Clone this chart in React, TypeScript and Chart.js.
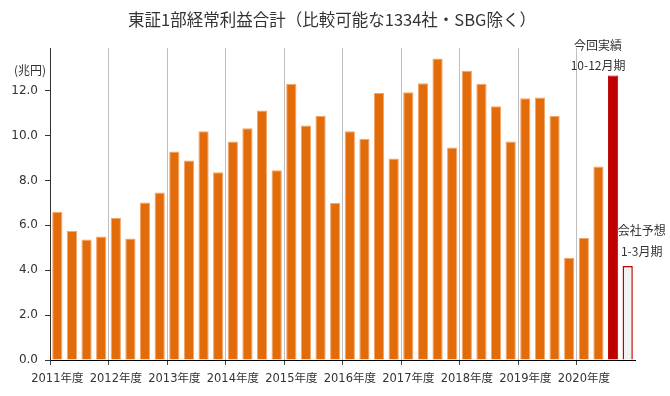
import React, { useEffect, useRef } from 'react';
import { Chart, registerables } from 'chart.js';

Chart.register(...registerables);

const chartTitle = '東証1部経常利益合計（比較可能な1334社・SBG除く）';
const unitLabel = '(兆円)';
const fiscalYears = ['2011年度', '2012年度', '2013年度', '2014年度', '2015年度', '2016年度', '2017年度', '2018年度', '2019年度', '2020年度'];
const quarters = ['4-6月期', '7-9月期', '10-12月期', '1-3月期'];
// quarterly ordinary profit (trillion yen)
const profits = [
  6.6, 5.75, 5.37, 5.5,
  6.33, 5.41, 7.02, 7.46,
  9.29, 8.89, 10.19, 8.37,
  9.74, 10.32, 11.12, 8.45,
  12.31, 10.45, 10.87, 7.0,
  10.19, 9.86, 11.9, 8.98,
  11.93, 12.33, 13.43, 9.47,
  12.89, 12.31, 11.3, 9.74,
  11.66, 11.69, 10.87, 4.55,
  5.44, 8.62, 12.68, 4.19,
];
const latestIndex = 38;
const forecastIndex = 39;
const latestNote = ['今回実績', '10-12月期'];
const forecastNote = ['会社予想', '1-3月期'];

const ORANGE = '#E36C0A';
const RED = '#C00000';
const FONT = "'DejaVu Sans', 'Noto Sans CJK JP', sans-serif";
const CJK = "'Noto Sans CJK JP', 'DejaVu Sans', sans-serif";

const labels: string[] = [];
fiscalYears.forEach((y) => quarters.forEach((q) => labels.push(y + ' ' + q)));

const overlayPlugin = {
  id: 'overlay',
  afterDraw(chart: any) {
    const ctx = chart.ctx;
    const x = chart.scales.x;
    const y = chart.scales.y;
    ctx.save();
    ctx.fillStyle = '#333333';
    ctx.textAlign = 'center';
    ctx.textBaseline = 'middle';
    ctx.font = `16.5px ${CJK}`;
    ctx.fillText(chartTitle, 332, 20);
    ctx.font = `12px ${CJK}`;
    ctx.fillText(unitLabel, 30, 70);

    ctx.font = `12px ${CJK}`;
    const lx = x.getPixelForValue(latestIndex) - 15;
    const ly = y.getPixelForValue(profits[latestIndex]);
    ctx.fillText(latestNote[0], lx, ly - 30);
    ctx.fillText(latestNote[1], lx, ly - 10);
    const fx = x.getPixelForValue(forecastIndex) + 14;
    const fy = y.getPixelForValue(profits[forecastIndex]);
    ctx.fillText(forecastNote[0], fx, fy - 36);
    ctx.fillText(forecastNote[1], fx, fy - 15);
    ctx.restore();
  },
};

export default function App() {
  const ref = useRef<HTMLCanvasElement | null>(null);
  useEffect(() => {
    if (!ref.current) return;
    const bg = profits.map((_, i) => (i === latestIndex ? RED : i === forecastIndex ? '#F2F2F2' : ORANGE));
    const bc = profits.map((_, i) => (i === latestIndex ? RED : i === forecastIndex ? RED : '#F3A467'));
    const bw = profits.map((_, i) => (i === forecastIndex ? 1.5 : 1));
    const chart = new Chart(ref.current, {
      type: 'bar',
      data: {
        labels,
        datasets: [
          {
            data: profits,
            backgroundColor: bg,
            borderColor: bc,
            borderWidth: bw,
            barPercentage: 0.7,
            categoryPercentage: 1,
          },
        ],
      },
      plugins: [overlayPlugin],
      options: {
        responsive: false,
        animation: false,
        layout: { padding: { top: 48, right: 35, left: 0, bottom: 0 } },
        plugins: { legend: { display: false }, tooltip: { enabled: false }, title: { display: false } },
        scales: {
          x: {
            afterFit: (s: any) => { s.height = 36; },
            border: { color: '#000000', width: 1 },
            grid: {
              offset: true,
              color: (c: any) => (c.index % 4 === 0 ? '#BFBFBF' : 'rgba(0,0,0,0)'),
              tickColor: (c: any) => (c.index % 4 === 0 ? '#404040' : 'rgba(0,0,0,0)'),
              tickLength: 5,
              lineWidth: 1,
            },
            ticks: {
              autoSkip: false,
              maxRotation: 0,
              minRotation: 0,
              padding: 7,
              color: '#333333',
              font: { family: FONT, size: 11.5 },
              callback: (_v: any, i: number) => (i % 4 === 0 ? fiscalYears[i / 4] : ''),
            },
          },
          y: {
            min: 0,
            max: 13.9,
            afterFit: (s: any) => { s.width = 50; },
            border: { color: '#333333', width: 1 },
            grid: { drawOnChartArea: false, drawTicks: true, tickLength: 5, tickColor: '#333333' },
            ticks: {
              stepSize: 2,
              includeBounds: false,
              padding: 7,
              color: '#333333',
              font: { family: FONT, size: 12 },
              callback: (v: any) => Number(v).toFixed(1),
            },
          },
        },
      },
    });
    return () => chart.destroy();
  }, []);
  return (
    <div style={{ position: 'fixed', left: 0, top: 0, width: 670, height: 396, background: '#ffffff' }}>
      <canvas ref={ref} width={670} height={396} style={{ display: 'block' }} />
    </div>
  );
}
